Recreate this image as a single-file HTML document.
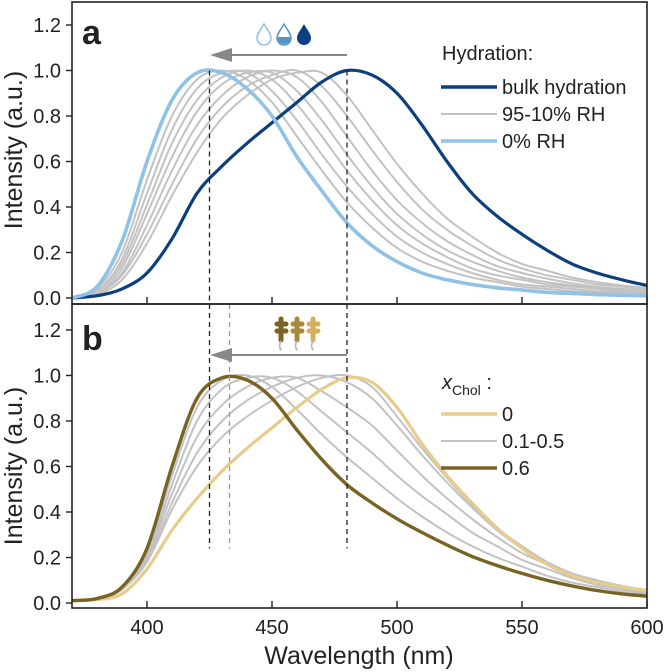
<!DOCTYPE html>
<html><head><meta charset="utf-8"><style>
body{margin:0;background:#fff;}
svg{display:block;font-family:"Liberation Sans",Arial,sans-serif;}
</style></head><body>
<svg id="chart" width="664" height="672" viewBox="0 0 664 672">
<g id="plot"></g>
</svg>
<script>
const wavelengths=[370,380,390,400,410,420,430,440,450,460,470,480,490,500,510,520,530,540,550,560,570,580,590,600];
const aBulk=[0,0.01,0.04,0.11,0.26,0.46,0.58,0.68,0.77,0.86,0.95,1.0,0.98,0.9,0.76,0.6,0.46,0.36,0.28,0.21,0.15,0.11,0.08,0.055];
const aDry=[0,0.05,0.25,0.6,0.87,0.99,0.99,0.92,0.8,0.62,0.47,0.33,0.23,0.16,0.11,0.08,0.06,0.045,0.035,0.025,0.02,0.015,0.012,0.01];
const aGray1=[0,0.04,0.2,0.52,0.8,0.96,1.0,0.96,0.86,0.71,0.56,0.42,0.31,0.22,0.16,0.12,0.09,0.07,0.05,0.04,0.03,0.025,0.02,0.015];
const aGray2=[0,0.03,0.17,0.46,0.74,0.92,0.99,0.99,0.91,0.78,0.63,0.49,0.37,0.27,0.2,0.15,0.11,0.08,0.06,0.05,0.04,0.03,0.025,0.02];
const aGray3=[0,0.03,0.15,0.41,0.68,0.87,0.97,1.0,0.96,0.85,0.71,0.56,0.43,0.32,0.24,0.18,0.13,0.1,0.08,0.06,0.05,0.04,0.03,0.025];
const aGray4=[0,0.02,0.13,0.37,0.62,0.82,0.94,0.99,0.99,0.91,0.78,0.63,0.49,0.37,0.28,0.21,0.16,0.12,0.09,0.07,0.055,0.045,0.035,0.03];
const aGray5=[0,0.02,0.11,0.32,0.56,0.76,0.89,0.97,1.0,0.97,0.86,0.71,0.56,0.43,0.33,0.25,0.19,0.14,0.11,0.085,0.065,0.05,0.04,0.035];
const aGray6=[0,0.02,0.1,0.28,0.5,0.7,0.84,0.93,0.98,1.0,0.93,0.8,0.65,0.51,0.39,0.3,0.23,0.17,0.13,0.1,0.08,0.06,0.05,0.04];
const aGray7=[0,0.015,0.08,0.24,0.45,0.64,0.79,0.89,0.96,0.99,0.99,0.89,0.74,0.59,0.46,0.35,0.27,0.2,0.15,0.12,0.09,0.07,0.055,0.045];
const bChol0=[0.01,0.015,0.04,0.15,0.32,0.46,0.58,0.68,0.77,0.86,0.94,0.99,0.97,0.86,0.7,0.56,0.44,0.33,0.24,0.17,0.12,0.09,0.07,0.055];
const bChol06=[0.01,0.02,0.07,0.24,0.6,0.9,0.99,0.98,0.9,0.76,0.63,0.52,0.44,0.37,0.31,0.255,0.205,0.165,0.13,0.1,0.075,0.055,0.04,0.03];
const bGray1=[0.01,0.02,0.06,0.22,0.56,0.86,0.98,1.0,0.95,0.85,0.74,0.64,0.55,0.46,0.38,0.31,0.25,0.2,0.16,0.12,0.09,0.07,0.05,0.04];
const bGray2=[0.01,0.02,0.06,0.21,0.52,0.8,0.94,0.99,0.99,0.93,0.84,0.75,0.66,0.56,0.47,0.39,0.31,0.25,0.19,0.15,0.11,0.08,0.06,0.045];
const bGray3=[0.01,0.02,0.06,0.2,0.48,0.73,0.87,0.95,0.99,0.99,0.93,0.86,0.78,0.67,0.56,0.46,0.37,0.29,0.22,0.17,0.12,0.09,0.07,0.05];
const bGray4=[0.01,0.02,0.06,0.19,0.44,0.66,0.8,0.89,0.95,0.99,1.0,0.97,0.9,0.78,0.65,0.53,0.42,0.32,0.24,0.18,0.13,0.1,0.07,0.055];
const bGray5=[0.01,0.02,0.06,0.18,0.41,0.6,0.73,0.82,0.89,0.95,0.99,1.0,0.95,0.82,0.68,0.55,0.43,0.33,0.25,0.18,0.13,0.1,0.075,0.055];
const xTicks=[400,450,500,550,600];
const yTicks=[0,0.2,0.4,0.6,0.8,1.0,1.2];
const aPeaks=[425,480];
const bPeaks=[425,433,480];

const NS="http://www.w3.org/2000/svg";
const g=document.getElementById('plot');
const X0=72,X1=647;
const xs=w=>X0+(w-370)*(X1-X0)/230;
const ysA=v=>298-v*227.5;
const ysB=v=>603-v*227.5;
function el(t,a,p){const e=document.createElementNS(NS,t);for(const k in a)e.setAttribute(k,a[k]);(p||g).appendChild(e);return e;}
function txt(s,a){const e=el('text',a);e.textContent=s;return e;}
function pathFor(vals,ys){
  const pts=wavelengths.map((w,i)=>[xs(w),ys(vals[i])]);
  let d='M'+pts[0][0].toFixed(1)+','+pts[0][1].toFixed(1);
  for(let i=0;i<pts.length-1;i++){
    const p0=pts[Math.max(0,i-1)],p1=pts[i],p2=pts[i+1],p3=pts[Math.min(pts.length-1,i+2)];
    const c1=[p1[0]+(p2[0]-p0[0])/6,p1[1]+(p2[1]-p0[1])/6];
    const c2=[p2[0]-(p3[0]-p1[0])/6,p2[1]-(p3[1]-p1[1])/6];
    d+=' C'+c1[0].toFixed(1)+','+c1[1].toFixed(1)+' '+c2[0].toFixed(1)+','+c2[1].toFixed(1)+' '+p2[0].toFixed(1)+','+p2[1].toFixed(1);
  }
  return d;
}
const defs=el('defs',{});
const cpA=el('clipPath',{id:'cA'},defs);el('rect',{x:X0,y:2,width:X1-X0,height:302},cpA);
const cpB=el('clipPath',{id:'cB'},defs);el('rect',{x:X0,y:304,width:X1-X0,height:304},cpB);

const gA=el('g',{'clip-path':'url(#cA)'});
[aGray7,aGray6,aGray5,aGray4,aGray3,aGray2,aGray1].forEach((s,i)=>{
  const p=el('path',{d:pathFor(s,ysA),fill:'none',stroke:'#c2c2c2','stroke-width':2},gA);
  
  
});
let p=el('path',{d:pathFor(aBulk,ysA),fill:'none',stroke:'#0c3f7e','stroke-width':3.2},gA);


p=el('path',{d:pathFor(aDry,ysA),fill:'none',stroke:'#8fc2e6','stroke-width':3.6},gA);



const gB=el('g',{'clip-path':'url(#cB)'});
[bGray5,bGray4,bGray3,bGray2,bGray1].forEach((s,i)=>{
  const q=el('path',{d:pathFor(s,ysB),fill:'none',stroke:'#c2c2c2','stroke-width':2},gB);
  
  
});
p=el('path',{d:pathFor(bChol0,ysB),fill:'none',stroke:'#e8cc8c','stroke-width':3.2},gB);


p=el('path',{d:pathFor(bChol06,ysB),fill:'none',stroke:'#7a6322','stroke-width':3.4},gB);



aPeaks.forEach(w=>{
  const l=el('line',{x1:xs(w),x2:xs(w),y1:ysA(1.0),y2:304,stroke:'#222','stroke-width':1.3,'stroke-dasharray':'5,4'});
  
  
});
bPeaks.forEach(w=>{
  const c=(w===433)?'#999':'#222';
  const l=el('line',{x1:xs(w),x2:xs(w),y1:304,y2:ysB(0.24),stroke:c,'stroke-width':1.3,'stroke-dasharray':'5,4'});
  
  
});

[[2,304],[304,608]].forEach((r,i)=>{
  const f=el('rect',{x:X0,y:r[0],width:X1-X0,height:r[1]-r[0],fill:'none',stroke:'#222','stroke-width':1.6});
  
  
});
[[ysA,'a'],[ysB,'b']].forEach(([ys,n])=>{
  yTicks.forEach(v=>{
    el('line',{x1:X0-6,x2:X0,y1:ys(v),y2:ys(v),stroke:'#222','stroke-width':1.4});
    const t=txt(v.toFixed(1),{x:X0-11,y:ys(v)+7,'text-anchor':'end','font-size':20,fill:'#222'});
    
    
  });
});
xTicks.forEach(w=>{
  el('line',{x1:xs(w),x2:xs(w),y1:297,y2:304,stroke:'#222','stroke-width':1.4});
  el('line',{x1:xs(w),x2:xs(w),y1:601,y2:608,stroke:'#222','stroke-width':1.4});
  const t=txt(String(w),{x:xs(w),y:634,'text-anchor':'middle','font-size':20,fill:'#222'});
  
  
});
</script>
<svg width="664" height="672" style="position:absolute;left:0;top:0">
<g font-family="Liberation Sans,Arial,sans-serif" fill="#222">
<text x="359" y="664" text-anchor="middle" font-size="25">Wavelength (nm)</text>
<text transform="translate(22,150) rotate(-90)" text-anchor="middle" font-size="25">Intensity (a.u.)</text>
<text transform="translate(22,466) rotate(-90)" text-anchor="middle" font-size="25">Intensity (a.u.)</text>
<text x="82" y="44" font-size="34" font-weight="bold">a</text>
<text x="82" y="350" font-size="34" font-weight="bold">b</text>
</g>
<g>
<line x1="347" y1="55" x2="228" y2="55" stroke="#888" stroke-width="2"/>
<polygon points="210,55 232,48 232,62" fill="#888"/>
</g>
<g>
<line x1="347" y1="355" x2="228" y2="355" stroke="#888" stroke-width="2"/>
<polygon points="210,355 232,348 232,362" fill="#888"/>
</g>
<g>
<path d="M264,24 C260,31 257,34 257,38 A7,7 0 0 0 271,38 C271,34 268,31 264,24Z" fill="#fff" stroke="#8fc2e6" stroke-width="1.5"/>
<path d="M284,24 C280,31 277,34 277,38 A7,7 0 0 0 291,38 C291,34 288,31 284,24Z" fill="#fff" stroke="#5a93c4" stroke-width="1.5"/>
<path d="M277,37 L291,37 A7,7 0 0 1 277,37Z" fill="#5a93c4"/>
<path d="M304,24 C300,31 297,34 297,38 A7,7 0 0 0 311,38 C311,34 308,31 304,24Z" fill="#0c3f7e"/>
</g>
<g stroke-width="5" stroke-linecap="round" fill="none">
<path d="M281,319 L281,340 M277,324 L286,324 M277,331 L286,331" stroke="#7a6322"/>
<path d="M297,319 L297,340 M293,324 L302,324 M293,331 L302,331" stroke="#a88a3c"/>
<path d="M313,319 L313,340 M309,324 L318,324 M309,331 L318,331" stroke="#d4b060"/>
<path d="M281,341 q-3,5 0,9 M297,341 q-3,5 0,9 M313,341 q-3,5 0,9" stroke="#caa" stroke-width="1.5"/>
</g>
<g font-family="Liberation Sans,Arial,sans-serif" font-size="20" fill="#222">
<text x="442" y="60">Hydration:</text>
<line x1="441" y1="87" x2="497" y2="87" stroke="#0c3f7e" stroke-width="3.5"/>
<text x="502" y="94">bulk hydration</text>
<line x1="441" y1="114" x2="497" y2="114" stroke="#c2c2c2" stroke-width="2"/>
<text x="502" y="121">95-10% RH</text>
<line x1="441" y1="141" x2="497" y2="141" stroke="#8fc2e6" stroke-width="3.5"/>
<text x="502" y="148">0% RH</text>
</g>
<g font-family="Liberation Sans,Arial,sans-serif" font-size="20" fill="#222">
<text x="442" y="389"><tspan font-style="italic">x</tspan><tspan font-size="14" dy="6">Chol</tspan><tspan dy="-6"> :</tspan></text>
<line x1="441" y1="414" x2="497" y2="414" stroke="#e8cc8c" stroke-width="3.5"/>
<text x="502" y="421">0</text>
<line x1="441" y1="441" x2="497" y2="441" stroke="#c2c2c2" stroke-width="2"/>
<text x="502" y="448">0.1-0.5</text>
<line x1="441" y1="468" x2="497" y2="468" stroke="#7a6322" stroke-width="3.5"/>
<text x="502" y="475">0.6</text>
</g>
</svg>
</body></html>
